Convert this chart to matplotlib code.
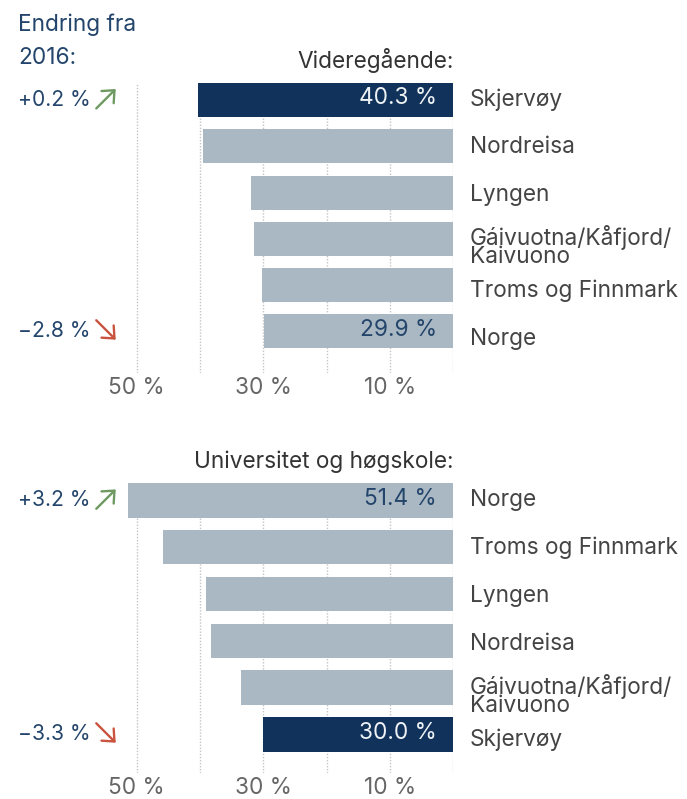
import matplotlib
matplotlib.use("Agg")
import matplotlib.pyplot as plt
from matplotlib.transforms import blended_transform_factory, Affine2D

plt.rcParams['font.family'] = ['Inter', 'DejaVu Sans']

# ---- data ----
vgs_categories = ["Skjervøy", "Nordreisa", "Lyngen", "Gáivuotna/Kåfjord/\nKaivuono",
                  "Troms og Finnmark", "Norge"]
vgs_values = [40.3, 39.5, 32.0, 31.4, 30.2, 29.9]
vgs_highlight = [True, False, False, False, False, False]
vgs_labelled = [0, 5]
vgs_changes = {0: "+0.2 %", 5: "\u22122.8 %"}

uni_categories = ["Norge", "Troms og Finnmark", "Lyngen", "Nordreisa",
                  "Gáivuotna/Kåfjord/\nKaivuono", "Skjervøy"]
uni_values = [51.4, 45.9, 39.0, 38.2, 33.5, 30.0]
uni_highlight = [False, False, False, False, False, True]
uni_labelled = [0, 5]
uni_changes = {0: "+3.2 %", 5: "\u22123.3 %"}

grid_ticks = [50, 40, 30, 20, 10, 0]
tick_labels = ["50 %", "", "30 %", "", "10 %", ""]

# ---- style ----
DARK = "#11325a"
LIGHT = "#a9b8c3"
TEXT_BLUE = "#24456b"
CAT_COL = "#444444"
TICK_COL = "#666666"
UP = "#6e9a62"
DOWN = "#c9533f"
FS = 16.3

W, H = 687, 799
fig = plt.figure(figsize=(W / 100, H / 100), dpi=100)

x_zero = 453.3
px_per_pct = 6.333
x_left = 105
xmax = (x_zero - x_left) / px_per_pct


def make_axes(top_px, bottom_px, ylim_bottom):
    ax = fig.add_axes([x_left / W, 1 - bottom_px / H, (x_zero - x_left) / W,
                       (bottom_px - top_px) / H])
    ax.set_xlim(xmax, 0)
    ax.set_ylim(ylim_bottom, -0.3675)
    for s in ax.spines.values():
        s.set_visible(False)
    ax.set_yticks([])
    ax.set_xticks(grid_ticks)
    ax.set_xticklabels(tick_labels, color=TICK_COL, fontsize=FS)
    ax.tick_params(axis='x', length=0, pad=3)
    ax.grid(axis='x', linestyle=(0, (1, 1.2)), color="#c4c4c4", linewidth=1.0)
    ax.set_axisbelow(True)
    return ax


def anchor_points(tr, x, y):
    """Transform: offsets in points around an anchor given in `tr` coordinates."""
    px, py = tr.transform((x, y))
    return Affine2D().scale(fig.dpi / 72).translate(px, py)


def draw_panel(ax, cats, vals, hl, labelled, changes, title, label_step_px,
               first_base_px):
    colors = [DARK if h else LIGHT for h in hl]
    ax.barh(range(len(cats)), vals, height=0.735, color=colors, zorder=2)
    # pixels per data unit along y
    y0 = ax.transData.transform((0, 0))[1]
    y1 = ax.transData.transform((0, 1))[1]
    ppu = abs(y0 - y1)
    for i, c in enumerate(cats):
        base = (first_base_px + i * label_step_px) / ppu
        if "\n" in c:
            # baseline alignment refers to the last line of a multi-line text
            ax.text(-2.6, base + 14.5 / ppu, c, ha='left', va='baseline',
                    fontsize=FS, color=CAT_COL, linespacing=0.8)
        else:
            ax.text(-2.6, base, c, ha='left', va='baseline', fontsize=FS,
                    color=CAT_COL)
    for i in labelled:
        ax.text(2.6, i - 0.04, f"{vals[i]:.1f} %", ha='right', va='center',
                fontsize=FS, color="#eef2f5" if hl[i] else TEXT_BLUE, zorder=3)
    tr = blended_transform_factory(fig.transFigure, ax.transData)
    for i, lab in changes.items():
        ax.text(18 / W, i, lab, transform=tr, ha='left', va='center', fontsize=15.2,
                color=TEXT_BLUE)
        up = lab.startswith("+")
        d = 7.0
        at = anchor_points(tr, 106 / W, i - 0.03)
        ax.annotate('', xy=(d, d if up else -d), xycoords=at,
                    xytext=(-d, -d if up else d), textcoords=at,
                    arrowprops=dict(arrowstyle='->,head_length=0.7,head_width=0.62',
                                    lw=1.7, color=UP if up else DOWN,
                                    shrinkA=0, shrinkB=0))
    ax.annotate(title, xy=(0, -0.3675), xycoords='data', xytext=(0, 11),
                textcoords='offset points', ha='right', va='baseline', fontsize=FS,
                color="#333333")


ax1 = make_axes(83.1, 373, 5.9)
draw_panel(ax1, vgs_categories, vgs_values, vgs_highlight, vgs_labelled, vgs_changes,
           "Videregående:", 47.8, 5.5)
ax2 = make_axes(483.3, 773, 5.825)
draw_panel(ax2, uni_categories, uni_values, uni_highlight, uni_labelled, uni_changes,
           "Universitet og høgskole:", 48.0, 5.5)

fig.text(18 / W, 1 - 14 / H, "Endring fra\n2016:", ha='left', va='top', fontsize=FS,
         color=TEXT_BLUE, linespacing=1.6)

fig.savefig("out.png", dpi=100)
